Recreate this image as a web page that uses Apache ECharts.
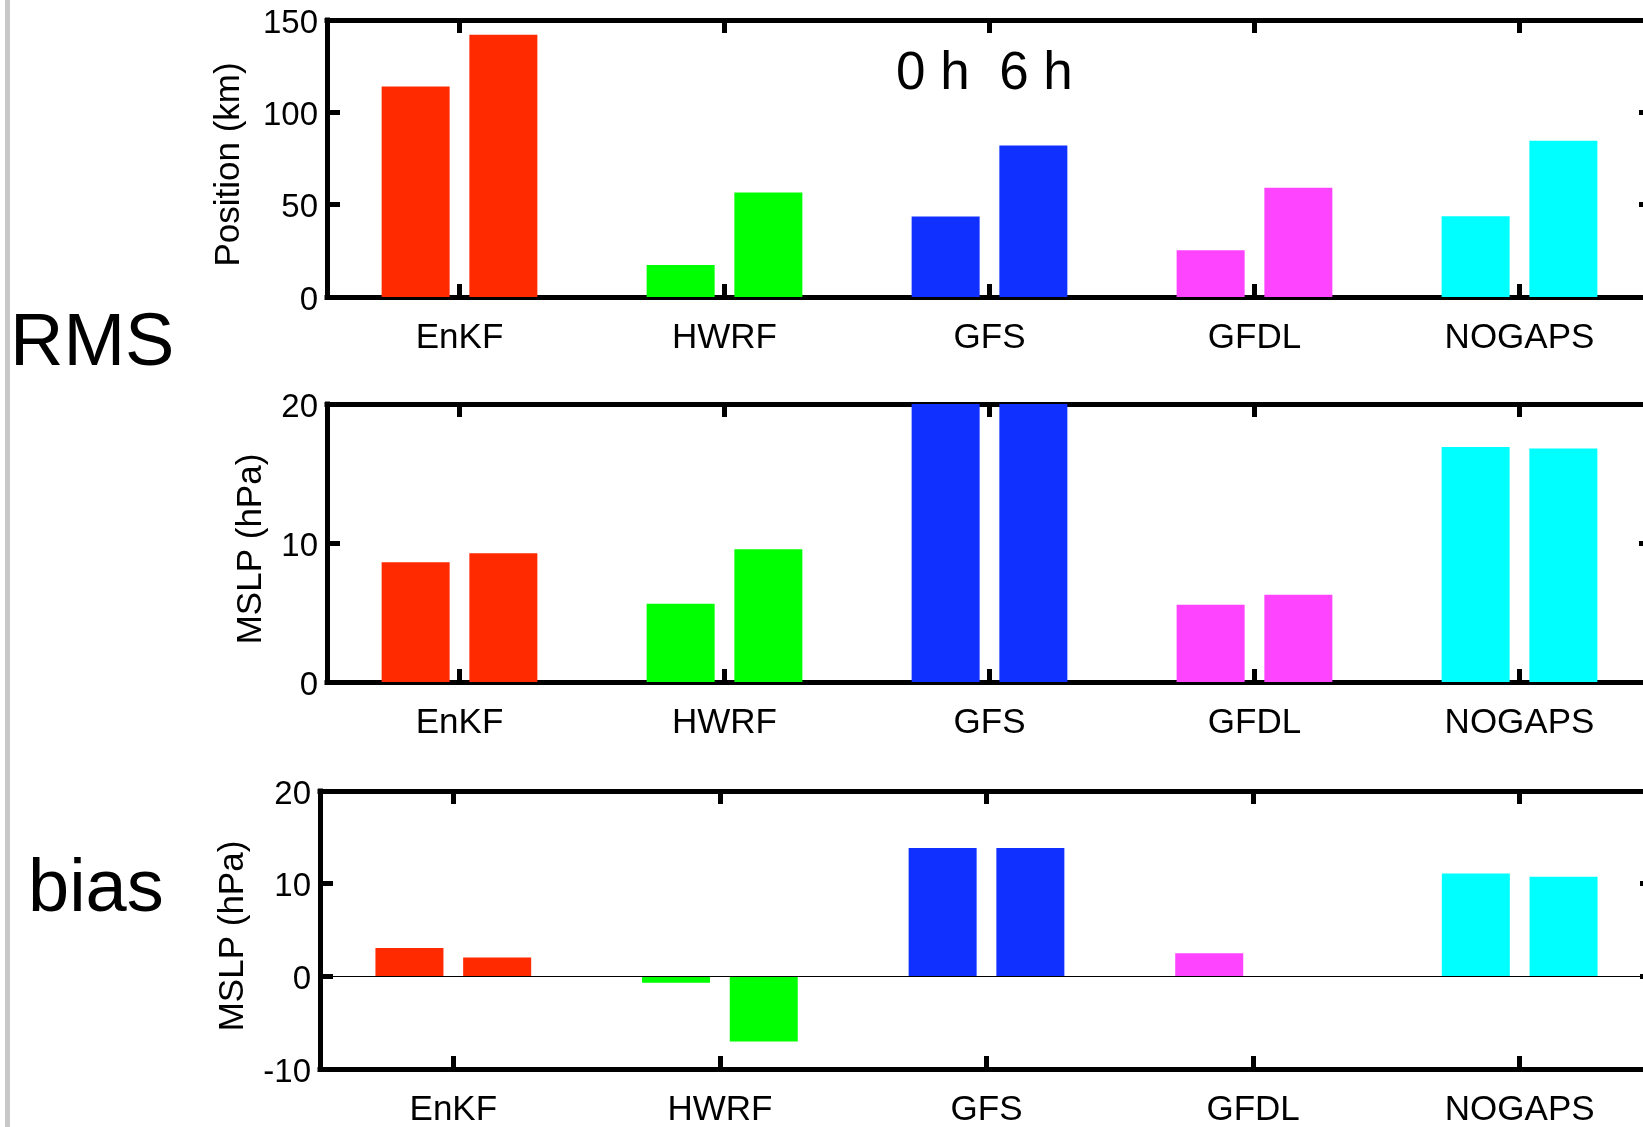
<!DOCTYPE html>
<html>
<head>
<meta charset="utf-8">
<script src="https://cdn.jsdelivr.net/npm/echarts@6/dist/echarts.min.js"></script>
<style>
html,body{margin:0;padding:0;background:#fff;}
#chart{width:1643px;height:1127px;}
</style>
</head>
<body>
<div id="chart"></div>
<script>
// ---- data ----
const categories = ['EnKF', 'HWRF', 'GFS', 'GFDL', 'NOGAPS'];
const seriesNames = ['0 h', '6 h'];

const posRms0h = [114, 17.3, 43.6, 25.3, 43.7];
const posRms6h = [142, 56.6, 82.0, 59.2, 84.6];

const mslpRms0h = [8.62, 5.63, 22, 5.55, 16.9];
const mslpRms6h = [9.26, 9.55, 22, 6.28, 16.8];

const mslpBias0h = [3.05, -0.7, 13.85, 2.5, 11.1];
const mslpBias6h = [2.02, -7.02, 13.85, 0, 10.75];

const posTicks = [0, 50, 100, 150];
const mslpRmsTicks = [0, 10, 20];
const mslpBiasTicks = [-10, 0, 10, 20];

// ---- styles ----
const catColors = ['#ff2a00', '#00ff00', '#0f30ff', '#ff44ff', '#00ffff'];
const FONT = "'Liberation Sans', Arial, Helvetica, sans-serif";

const panels = [
  {grid: {left: 327, right: -9, top: 20, height: 277}, ticks: posTicks, name: 'Position (km)', nameGap: 80, s0: posRms0h, s6: posRms6h, zero: false},
  {grid: {left: 327, right: -9, top: 404, height: 278}, ticks: mslpRmsTicks, name: 'MSLP (hPa)', nameGap: 58, s0: mslpRms0h, s6: mslpRms6h, zero: false},
  {grid: {left: 320, right: -10, top: 791, height: 278}, ticks: mslpBiasTicks, name: 'MSLP (hPa)', nameGap: 69, s0: mslpBias0h, s6: mslpBias6h, zero: true}
];

const lineSt = {color: '#000', width: 5, cap: 'square'};
const tickSt = {show: true, inside: true, length: 13, lineStyle: {color: '#000', width: 5}};

const grids = [], xAxes = [], yAxes = [], series = [];
panels.forEach((p, i) => {
  grids.push(Object.assign({containLabel: false, outerBoundsMode: 'none'}, p.grid));
  xAxes.push({
    gridIndex: i, type: 'category', position: 'bottom', data: categories,
    axisLine: {show: true, onZero: false, lineStyle: lineSt},
    axisTick: Object.assign({alignWithLabel: true}, tickSt),
    axisLabel: {show: true, color: '#000', fontSize: 35, fontFamily: FONT, margin: 24, interval: 0},
    splitLine: {show: false}
  });
  xAxes.push({
    gridIndex: i, type: 'category', position: 'top', data: categories,
    axisLine: {show: true, onZero: false, lineStyle: lineSt},
    axisTick: Object.assign({alignWithLabel: true}, tickSt),
    axisLabel: {show: false}, splitLine: {show: false}
  });
  const mn = p.ticks[0], mx = p.ticks[p.ticks.length - 1], iv = p.ticks[1] - p.ticks[0];
  yAxes.push({
    gridIndex: i, type: 'value', position: 'left', min: mn, max: mx, interval: iv,
    name: '{t|' + p.name + '}{p| }', nameLocation: 'middle', nameGap: p.nameGap,
    nameTextStyle: {color: '#000', fontSize: 35, fontFamily: FONT,
      rich: {t: {color: '#000', fontSize: 35, fontFamily: FONT}, p: {width: 12, fontSize: 35}}},
    axisLine: {show: true, onZero: false, lineStyle: lineSt},
    axisTick: tickSt,
    axisLabel: {show: true, color: '#000', fontSize: 33, fontFamily: FONT, margin: 9, verticalAlign: 'top', lineHeight: 7},
    splitLine: {show: false}
  });
  yAxes.push({
    gridIndex: i, type: 'value', position: 'right', min: mn, max: mx, interval: iv,
    axisLine: {show: true, onZero: false, lineStyle: lineSt},
    axisTick: tickSt,
    axisLabel: {show: false}, splitLine: {show: false}
  });
  [p.s0, p.s6].forEach((vals, k) => {
    const s = {
      type: 'bar', name: seriesNames[k],
      xAxisIndex: 2 * i, yAxisIndex: 2 * i,
      barWidth: 68, barGap: '29%',
      clip: true,
      data: vals.map((v, j) => ({value: v, itemStyle: {color: catColors[j]}})),
      silent: true
    };
    if (p.zero && k === 0) {
      s.markLine = {
        silent: true, symbol: ['none', 'none'],
        label: {show: false},
        lineStyle: {color: '#000', width: 1, type: 'solid'},
        data: [{yAxis: 0}]
      };
    }
    series.push(s);
  });
});

const chart = echarts.init(document.getElementById('chart'), null, {renderer: 'canvas'});
chart.setOption({
  backgroundColor: '#fff',
  animation: false,
  textStyle: {fontFamily: FONT},
  grid: grids,
  xAxis: xAxes,
  yAxis: yAxes,
  series: series,
  graphic: [
    {type: 'rect', left: 5, top: 0, shape: {width: 5, height: 1127}, style: {fill: '#c8c8c8'}, silent: true},
    {type: 'text', x: 10, y: 345, style: {text: 'RMS', fontSize: 74, fontFamily: FONT, fill: '#000', textVerticalAlign: 'middle'}, silent: true},
    {type: 'text', x: 28, y: 891, style: {text: 'bias', fontSize: 74, fontFamily: FONT, fill: '#000', textVerticalAlign: 'middle'}, silent: true},
    {type: 'text', x: 896, y: 74, style: {text: seriesNames[0] + '  ' + seriesNames[1], fontSize: 53, fontFamily: FONT, fill: '#000', textVerticalAlign: 'middle'}, silent: true}
  ]
});
</script>
</body>
</html>
